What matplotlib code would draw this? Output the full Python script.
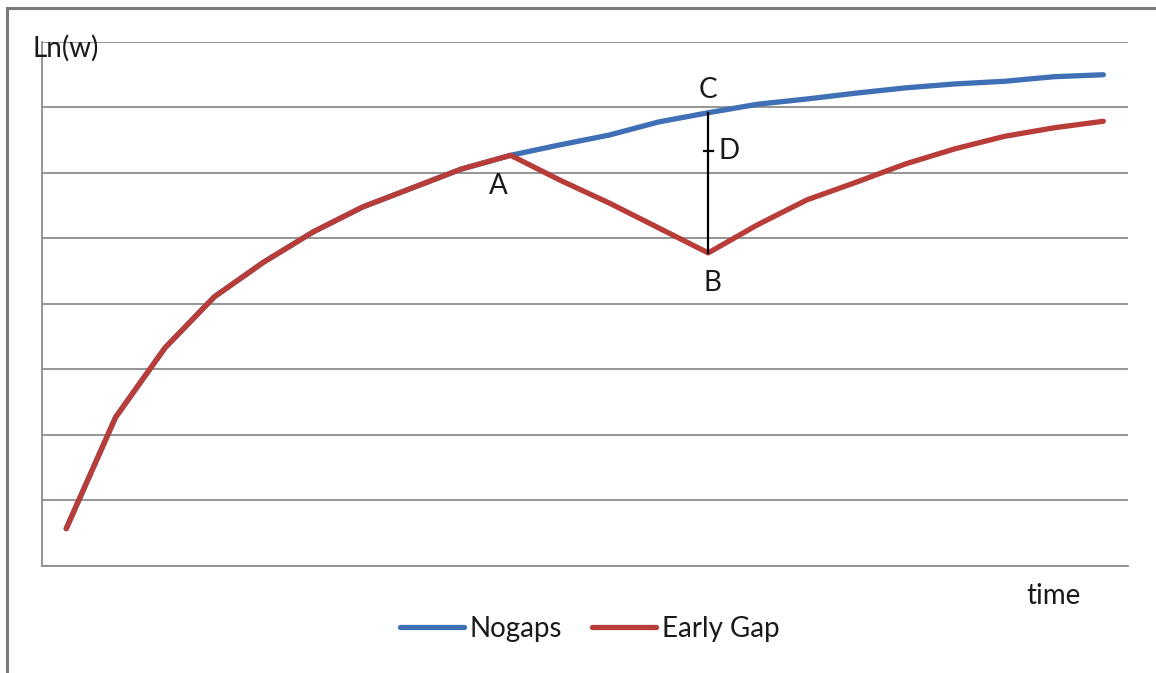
import matplotlib
matplotlib.use("Agg")
from matplotlib import pyplot as plt
from matplotlib.lines import Line2D

# time periods (categories)
periods = list(range(1, 23))

# Early Gap series (ln wage)
early_gap = [0.57, 2.27, 3.33, 4.11, 4.64, 5.10, 5.48, 5.77, 6.06, 6.27,
             5.89, 5.54, 5.16, 4.78, 5.21, 5.59, 5.86, 6.14, 6.37, 6.56,
             6.69, 6.79]

# Nogaps series: same path until point A, then keeps rising
nogaps = early_gap[:10] + [6.43, 6.58, 6.78, 6.92, 7.05, 7.13, 7.22,
                           7.30, 7.36, 7.40, 7.47, 7.50]

BLUE = "#3f6fb5"
RED = "#b83c38"
GRID = "#8c8c8c"
FONT = "Lato"

fig = plt.figure(figsize=(11.56, 6.73), dpi=100)
ax = fig.add_axes([0.0359, 0.159, 0.9399, 0.7786])

ax.plot(periods, nogaps, color=BLUE, lw=3.8, solid_capstyle="round",
        solid_joinstyle="round", label="Nogaps", zorder=3)
ax.plot(periods, early_gap, color=RED, lw=3.8, solid_capstyle="round",
        solid_joinstyle="round", label="Early Gap", zorder=4)

ax.set_xlim(0.5, 22.5)
ax.set_ylim(0, 8)
ax.set_yticks(range(0, 9))
ax.set_xticks([])
ax.tick_params(axis="y", length=0, labelleft=False)
ax.grid(axis="y", color=GRID, lw=1.3)
ax.set_axisbelow(True)

for side in ["top", "right"]:
    ax.spines[side].set_visible(False)
for side in ["left", "bottom"]:
    ax.spines[side].set_color(GRID)
    ax.spines[side].set_linewidth(1.3)

# gap line from C down to B, with midpoint D
ia, ib = 9, 13
ax.plot([periods[ib], periods[ib]], [nogaps[ib], early_gap[ib]],
        color="black", lw=1.6, zorder=5)
d_val = nogaps[ib] - (nogaps[ib] - early_gap[ib]) * 0.27
ax.plot([periods[ib] - 0.09, periods[ib] + 0.09], [d_val, d_val],
        color="black", lw=1.6, zorder=5)

lab = dict(fontsize=20, family=FONT, color="#1a1a1a")
ax.text(periods[ia] - 0.25, early_gap[ia] - 0.47, "A", ha="center", va="center", **lab)
ax.text(periods[ib] + 0.08, early_gap[ib] - 0.46, "B", ha="center", va="center", **lab)
ax.text(periods[ib], nogaps[ib] + 0.35, "C", ha="center", va="center", **lab)
ax.text(periods[ib] + 0.2, d_val, "D", ha="left", va="center", **lab)

fig.text(0.028, 0.928, "Ln(w)", ha="left", va="center", **lab)
fig.text(0.911, 0.114, "time", ha="center", va="center", **lab)

leg = fig.legend(handles=[Line2D([], [], color=BLUE, lw=3.8, solid_capstyle="round"),
                          Line2D([], [], color=RED, lw=3.8, solid_capstyle="round")],
                 labels=["Nogaps", "Early Gap"], loc="center",
                 bbox_to_anchor=(0.510, 0.066), ncol=2, frameon=False,
                 prop={"family": FONT, "size": 20}, handlelength=2.3,
                 handletextpad=0.2, columnspacing=1.1)
for t in leg.get_texts():
    t.set_color("#1a1a1a")

# outer chart border (top and left edges visible)
fig.add_artist(Line2D([0.006, 1.0], [0.988, 0.988], transform=fig.transFigure,
                      color="#7a7a7a", lw=2.2))
fig.add_artist(Line2D([0.006, 0.006], [0.0, 0.988], transform=fig.transFigure,
                      color="#7a7a7a", lw=2.2))

fig.savefig("out.png", dpi=100)
plt.close(fig)
